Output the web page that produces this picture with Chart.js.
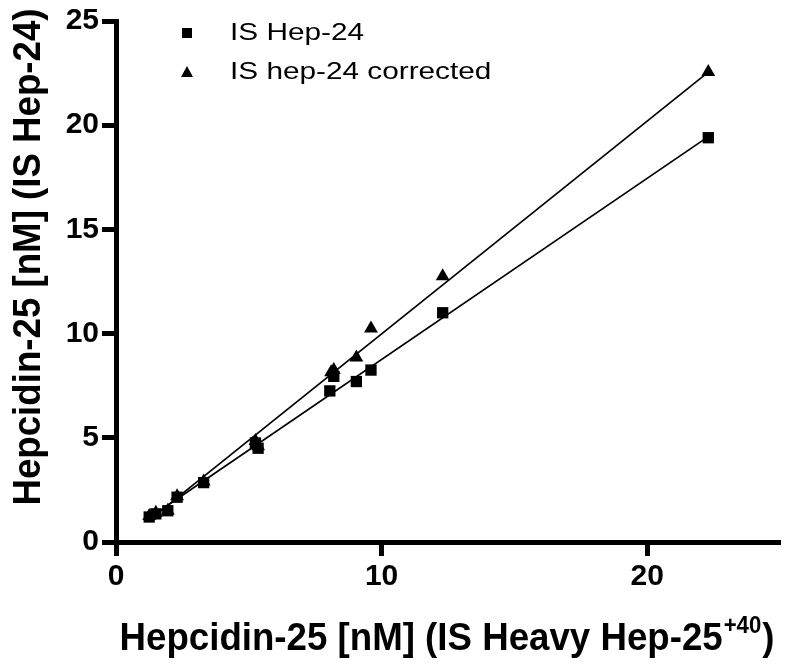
<!DOCTYPE html>
<html>
<head>
<meta charset="utf-8">
<script src="https://cdn.jsdelivr.net/npm/chart.js@4.4.1/dist/chart.umd.min.js"></script>
<style>
  html, body { margin: 0; padding: 0; background: #fff; }
  #wrap { width: 792px; height: 670px; }
</style>
</head>
<body>
<div id="wrap"><canvas id="chart" width="792" height="670"></canvas></div>
<script>
// data (x = Heavy Hep-25 IS, y = Hep-24 IS)
const hep24X = [1.25, 1.5, 1.95, 2.3, 3.3, 5.25, 5.35, 8.05, 8.2, 9.05, 9.6, 12.3, 22.3];
const hep24Y = [1.2, 1.35, 1.5, 2.15, 2.85, 4.75, 4.5, 7.25, 7.95, 7.7, 8.25, 11.0, 19.4];
const corrX  = [1.25, 1.5, 1.95, 2.3, 3.3, 5.25, 5.35, 8.1, 8.2, 9.05, 9.6, 12.3, 22.3];
const corrY  = [1.25, 1.4, 1.5, 2.2, 2.9, 4.85, 4.6, 8.15, 8.25, 8.85, 10.25, 12.75, 22.55];
// fitted lines (end points)
const fitHep24 = [[1.25, 1.15], [22.3, 19.45]];
const fitCorr  = [[1.25, 1.05], [22.3, 22.55]];
const xTicks = [0, 10, 20];
const yTicks = [0, 5, 10, 15, 20, 25];
const labels = ['IS Hep-24', 'IS hep-24 corrected'];
const yTitle = 'Hepcidin-25 [nM] (IS Hep-24)';

const toPts = (xs, ys) => xs.map((x, i) => ({ x: x, y: ys[i] }));
const FONT = "'Liberation Sans', Arial, sans-serif";

// legend, axis titles (x title has a superscript)
const extras = {
    id: 'extras',
    afterDraw(chart) {
        const ctx = chart.ctx;
        ctx.save();
        ctx.fillStyle = '#000';

        // legend
        ctx.fillRect(182, 28, 10, 10);
        ctx.beginPath();
        ctx.moveTo(187, 66); ctx.lineTo(193, 77); ctx.lineTo(181, 77); ctx.closePath();
        ctx.fill();
        ctx.font = '24px ' + FONT;
        ctx.textBaseline = 'middle';
        ctx.textAlign = 'left';
        [[labels[0], 33], [labels[1], 72]].forEach(([t, y]) => {
            ctx.save();
            ctx.translate(230, y);
            ctx.scale(1.24, 1);
            ctx.fillText(t, 0, 0);
            ctx.restore();
        });

        // y axis title
        const sq = 0.965;
        ctx.save();
        ctx.font = 'bold 38px ' + FONT;
        ctx.textAlign = 'center';
        ctx.textBaseline = 'middle';
        ctx.translate(30, 257);
        ctx.rotate(-Math.PI / 2);
        ctx.scale(sq, 1);
        ctx.fillText(yTitle, 0, 0);
        ctx.restore();

        // x axis title
        const a = 'Hepcidin-25 [nM] (IS Heavy Hep-25', sup = '+40', b = ')';
        const fMain = 'bold 38px ' + FONT, fSup = 'bold 23px ' + FONT;
        ctx.font = fMain;
        const wa = ctx.measureText(a).width, wb = ctx.measureText(b).width;
        ctx.font = fSup;
        const ws = ctx.measureText(sup).width;
        const total = (wa + ws + wb + 2) * sq;
        ctx.save();
        ctx.translate(447 - total / 2, 650);
        ctx.scale(sq, 1);
        ctx.textBaseline = 'alphabetic';
        ctx.textAlign = 'left';
        let x = 0;
        ctx.font = fMain; ctx.fillText(a, x, 0); x += wa + 1;
        ctx.font = fSup; ctx.fillText(sup, x, -17); x += ws + 1;
        ctx.font = fMain; ctx.fillText(b, x, 0);
        ctx.restore();

        ctx.restore();
    }
};

const axisCommon = {
    type: 'linear',
    min: 0,
    max: 25,
    border: { display: true, width: 5, color: '#000' },
    grid: { display: true, drawOnChartArea: false, tickLength: 14, tickWidth: 5, tickColor: '#000' },
    ticks: { color: '#000', font: { family: FONT, size: 30, weight: 'bold' } }
};

new Chart(document.getElementById('chart'), {
    type: 'scatter',
    data: {
        datasets: [
            { label: labels[0], data: toPts(hep24X, hep24Y), pointStyle: 'rect', pointRadius: 8,
              backgroundColor: '#000', borderColor: '#000', borderWidth: 0, order: 1 },
            { label: labels[1], data: toPts(corrX, corrY), pointStyle: 'triangle', pointRadius: 8,
              backgroundColor: '#000', borderColor: '#000', borderWidth: 0, order: 1 },
            { type: 'line', data: fitHep24.map(p => ({ x: p[0], y: p[1] })), showLine: true,
              borderColor: '#000', borderWidth: 1.7, pointRadius: 0, fill: false, order: 2 },
            { type: 'line', data: fitCorr.map(p => ({ x: p[0], y: p[1] })), showLine: true,
              borderColor: '#000', borderWidth: 1.7, pointRadius: 0, fill: false, order: 2 }
        ]
    },
    options: {
        responsive: false,
        animation: false,
        layout: { padding: { left: 0, right: 12, top: 21, bottom: 0 } },
        plugins: { legend: { display: false }, tooltip: { enabled: false } },
        scales: {
            x: Object.assign({}, axisCommon, {
                position: 'bottom',
                ticks: Object.assign({}, axisCommon.ticks, { padding: 3, maxRotation: 0 }),
                afterBuildTicks: s => { s.ticks = xTicks.map(v => ({ value: v })); },
                afterFit: s => { s.height = 128; }
            }),
            y: Object.assign({}, axisCommon, {
                position: 'left',
                ticks: Object.assign({}, axisCommon.ticks, { padding: 3 }),
                afterBuildTicks: s => { s.ticks = yTicks.map(v => ({ value: v })); },
                afterFit: s => { s.width = 116; }
            })
        }
    },
    plugins: [extras]
});
</script>
</body>
</html>
